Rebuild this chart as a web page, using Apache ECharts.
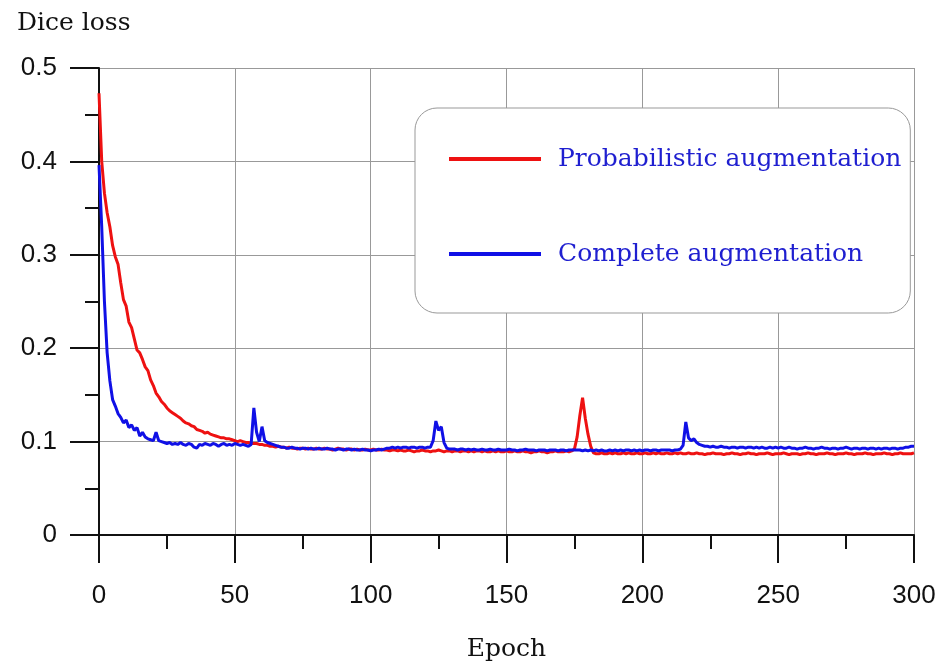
<!DOCTYPE html>
<html>
<head>
<meta charset="utf-8">
<script src="https://cdn.jsdelivr.net/npm/echarts@6/dist/echarts.min.js"></script>
<style>html,body{margin:0;padding:0;background:#fff}#c{width:945px;height:668px}</style>
</head>
<body>
<div id="c"></div>
<script>
// Epochs 0..300
var epochs = [];
for (var i = 0; i <= 300; i++) epochs.push(i);

var probabilistic = [
0.473,0.400,0.366,0.345,0.330,0.310,0.298,0.290,0.270,0.252,
0.245,0.228,0.222,0.210,0.198,0.195,0.188,0.180,0.176,0.166,
0.160,0.152,0.148,0.143,0.140,0.136,0.133,0.131,0.129,0.127,
0.125,0.122,0.120,0.119,0.117,0.116,0.113,0.112,0.111,0.109,
0.110,0.108,0.107,0.106,0.105,0.104,0.104,0.103,0.103,0.102,
0.101,0.100,0.101,0.100,0.099,0.099,0.098,0.098,0.098,0.097,
0.097,0.096,0.096,0.095,0.095,0.094,0.095,0.094,0.094,0.093,
0.094,0.093,0.093,0.092,0.093,0.093,0.092,0.093,0.092,0.092,
0.093,0.092,0.092,0.093,0.092,0.092,0.091,0.092,0.093,0.092,
0.092,0.091,0.092,0.092,0.091,0.092,0.091,0.091,0.092,0.091,
0.091,0.092,0.091,0.091,0.092,0.091,0.091,0.090,0.091,0.091,
0.090,0.091,0.090,0.090,0.091,0.090,0.089,0.090,0.090,0.091,
0.090,0.090,0.089,0.090,0.090,0.091,0.090,0.089,0.090,0.090,
0.089,0.090,0.090,0.089,0.090,0.090,0.089,0.090,0.089,0.090,
0.090,0.089,0.090,0.089,0.089,0.090,0.089,0.090,0.089,0.089,
0.090,0.089,0.089,0.090,0.089,0.089,0.090,0.089,0.089,0.088,
0.089,0.089,0.090,0.089,0.089,0.088,0.089,0.089,0.090,0.089,
0.089,0.089,0.090,0.089,0.090,0.092,0.105,0.128,0.147,0.125,
0.108,0.095,0.088,0.087,0.087,0.088,0.087,0.087,0.088,0.087,
0.088,0.087,0.087,0.088,0.087,0.088,0.087,0.087,0.088,0.087,
0.087,0.088,0.087,0.087,0.088,0.087,0.088,0.087,0.087,0.088,
0.087,0.087,0.088,0.087,0.088,0.087,0.087,0.088,0.087,0.087,
0.088,0.087,0.087,0.086,0.087,0.087,0.088,0.087,0.087,0.087,
0.086,0.087,0.087,0.088,0.087,0.087,0.086,0.087,0.087,0.088,
0.087,0.087,0.086,0.087,0.087,0.087,0.088,0.087,0.086,0.087,
0.087,0.087,0.088,0.087,0.086,0.087,0.087,0.087,0.086,0.087,
0.087,0.088,0.087,0.087,0.086,0.087,0.087,0.087,0.088,0.087,
0.087,0.086,0.087,0.087,0.087,0.088,0.087,0.087,0.086,0.087,
0.087,0.087,0.088,0.087,0.087,0.086,0.087,0.087,0.087,0.088,
0.087,0.087,0.086,0.087,0.087,0.088,0.087,0.087,0.087,0.087,
0.088
];

var complete = [
0.396,0.330,0.250,0.195,0.165,0.145,0.138,0.130,0.126,0.120,
0.123,0.115,0.118,0.112,0.115,0.106,0.110,0.105,0.103,0.102,
0.101,0.110,0.101,0.100,0.099,0.098,0.099,0.097,0.098,0.097,
0.099,0.097,0.096,0.098,0.097,0.094,0.093,0.097,0.096,0.098,
0.097,0.096,0.098,0.097,0.095,0.097,0.098,0.096,0.097,0.096,
0.098,0.097,0.096,0.097,0.096,0.095,0.097,0.136,0.110,0.100,
0.116,0.101,0.099,0.098,0.097,0.096,0.095,0.094,0.094,0.093,
0.093,0.094,0.093,0.093,0.092,0.093,0.093,0.092,0.093,0.092,
0.092,0.093,0.092,0.092,0.093,0.092,0.092,0.091,0.092,0.092,
0.091,0.092,0.092,0.091,0.092,0.091,0.091,0.092,0.091,0.091,
0.090,0.091,0.091,0.092,0.091,0.092,0.093,0.093,0.094,0.093,
0.094,0.093,0.094,0.094,0.093,0.094,0.094,0.093,0.094,0.094,
0.093,0.094,0.094,0.101,0.122,0.112,0.116,0.099,0.093,0.092,
0.092,0.092,0.091,0.092,0.092,0.091,0.092,0.091,0.092,0.091,
0.091,0.092,0.091,0.091,0.092,0.091,0.091,0.092,0.091,0.091,
0.091,0.092,0.091,0.091,0.090,0.091,0.091,0.092,0.091,0.091,
0.091,0.090,0.091,0.091,0.091,0.090,0.091,0.091,0.091,0.090,
0.091,0.091,0.090,0.091,0.091,0.091,0.091,0.091,0.090,0.091,
0.090,0.091,0.090,0.091,0.090,0.091,0.090,0.090,0.091,0.090,
0.091,0.090,0.091,0.090,0.091,0.091,0.090,0.091,0.090,0.091,
0.090,0.091,0.091,0.090,0.091,0.091,0.090,0.091,0.091,0.091,
0.091,0.090,0.091,0.091,0.092,0.096,0.121,0.104,0.101,0.103,
0.099,0.097,0.096,0.095,0.095,0.094,0.095,0.094,0.094,0.095,
0.094,0.094,0.093,0.094,0.094,0.093,0.094,0.094,0.093,0.094,
0.094,0.093,0.094,0.093,0.094,0.093,0.093,0.094,0.093,0.094,
0.093,0.094,0.093,0.093,0.094,0.093,0.093,0.092,0.093,0.093,
0.094,0.093,0.093,0.092,0.093,0.093,0.094,0.093,0.093,0.092,
0.093,0.093,0.092,0.093,0.093,0.094,0.093,0.092,0.093,0.093,
0.092,0.093,0.093,0.092,0.093,0.093,0.092,0.093,0.092,0.093,
0.093,0.092,0.093,0.093,0.092,0.093,0.093,0.094,0.094,0.095,
0.095
];

var seriesNames = ['Probabilistic augmentation', 'Complete augmentation'];
var yAxisTitle = 'Dice loss';
var xAxisTitle = 'Epoch';

function pairs(xs, ys) { return xs.map(function (x, i) { return [x, ys[i]]; }); }

var chart = echarts.init(document.getElementById('c'), null, { renderer: 'canvas' });
var axisFont = 'Liberation Sans, Arial, sans-serif';
var serif = 'DejaVu Serif, serif';

chart.setOption({
  animation: false,
  backgroundColor: '#fff',
  grid: { left: 99, right: 31, top: 68, bottom: 133, containLabel: false, outerBoundsMode: 'none' },
  xAxis: {
    type: 'value', min: 0, max: 300, interval: 50,
    name: xAxisTitle, nameLocation: 'middle', nameGap: 102,
    nameTextStyle: { fontFamily: serif, fontSize: 25, color: '#111' },
    axisLine: { show: true, onZero: false, lineStyle: { color: '#111', width: 2 } },
    axisTick: { show: true, length: 28, lineStyle: { color: '#111', width: 2 } },
    minorTick: { show: true, splitNumber: 2, length: 14, lineStyle: { color: '#111', width: 2 } },
    splitLine: { show: true, lineStyle: { color: '#999', width: 1 } },
    axisLabel: { fontFamily: axisFont, fontSize: 26, color: '#111', margin: 48 }
  },
  yAxis: {
    type: 'value', min: 0, max: 0.5, interval: 0.1,
    axisLine: { show: true, lineStyle: { color: '#111', width: 2 } },
    axisTick: { show: true, length: 29, lineStyle: { color: '#111', width: 2 } },
    minorTick: { show: true, splitNumber: 2, length: 14, lineStyle: { color: '#111', width: 2 } },
    splitLine: { show: true, lineStyle: { color: '#999', width: 1 } },
    axisLabel: { fontFamily: axisFont, fontSize: 26, color: '#111', margin: 42,
      formatter: function (v) { return v === 0 ? '0' : String(Math.round(v * 10) / 10); } }
  },
  legend: {
    left: 415, top: 108, orient: 'vertical',
    padding: [36, 9, 44, 34],
    itemGap: 65, itemWidth: 92, itemHeight: 4, icon: 'rect',
    backgroundColor: '#fff', borderColor: '#999', borderWidth: 1, borderRadius: 22,
    textStyle: { fontFamily: serif, fontSize: 25, color: '#1f1fd0', lineHeight: 30, padding: [0, 0, 0, 12] },
    data: seriesNames
  },
  graphic: [
    { type: 'text', left: 17, top: 11, style: { text: yAxisTitle, font: '25px ' + serif, fill: '#111' } }
  ],
  series: [
    { name: seriesNames[0], type: 'line', data: pairs(epochs, probabilistic), symbol: 'none',
      lineStyle: { color: '#ee1111', width: 3 }, itemStyle: { color: '#ee1111' }, z: 3 },
    { name: seriesNames[1], type: 'line', data: pairs(epochs, complete), symbol: 'none',
      lineStyle: { color: '#1010e6', width: 3 }, itemStyle: { color: '#1010e6' }, z: 4 }
  ]
});
</script>
</body>
</html>
